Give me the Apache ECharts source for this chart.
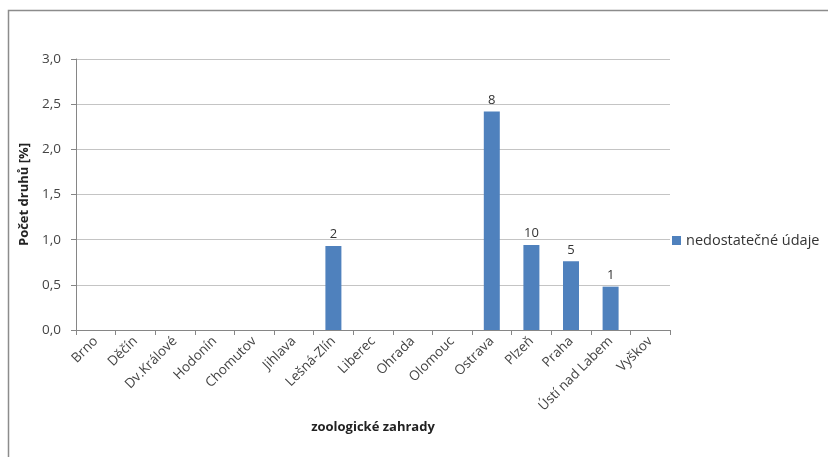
<!DOCTYPE html>
<html>
<head>
<meta charset="utf-8">
<script src="https://cdn.jsdelivr.net/npm/echarts@6/dist/echarts.min.js"></script>
<style>
  html, body { margin: 0; padding: 0; background: #fff; }
  #chart { width: 828px; height: 457px; }
</style>
</head>
<body>
<div id="chart"></div>
<script>
// zoologické zahrady
const zoos = ['Brno', 'Děčín', 'Dv.Králové', 'Hodonín', 'Chomutov', 'Jihlava', 'Lešná-Zlín',
    'Liberec', 'Ohrada', 'Olomouc', 'Ostrava', 'Plzeň', 'Praha', 'Ústí nad Labem', 'Vyškov'];
// podíl v %
const shares = [null, null, null, null, null, null, 0.93, null, null, null, 2.42, 0.94, 0.76, 0.48, null];
// počty druhů nad sloupci
const counts = ['', '', '', '', '', '', '2', '', '', '', '8', '10', '5', '1', ''];

const font = '"Open Sans", "DejaVu Sans", sans-serif';

const chart = echarts.init(document.getElementById('chart'));
chart.setOption({
    animation: false,
    graphic: [{
        type: 'rect',
        shape: { x: 8.5, y: 10.5, width: 860, height: 480 },
        style: { fill: 'none', stroke: '#8c8c8c', lineWidth: 1.5 },
    }],
    grid: { left: 76, right: 158, top: 59, bottom: 127 },
    legend: {
        data: ['nedostatečné údaje'],
        left: 667, top: 228,
        itemWidth: 9, itemHeight: 9, itemGap: 4,
        icon: 'rect',
        textStyle: { fontFamily: font, fontSize: 14.5, color: '#333' },
    },
    xAxis: {
        type: 'category',
        data: zoos,
        name: 'zoologické zahrady',
        nameLocation: 'middle',
        nameGap: 88,
        nameTextStyle: { fontFamily: font, fontSize: 13, fontWeight: 'bold', color: '#222' },
        axisLine: { lineStyle: { color: '#868686' } },
        axisTick: { show: true, length: 5, lineStyle: { color: '#868686' } },
        axisLabel: { rotate: 45, fontFamily: font, fontSize: 13.5, color: '#444', margin: 9, interval: 0 },
    },
    yAxis: {
        type: 'value',
        min: 0, max: 3, interval: 0.5,
        name: 'Počet druhů [%]',
        nameLocation: 'middle',
        nameGap: 44,
        nameRotate: 90,
        nameTextStyle: { fontFamily: font, fontSize: 13, fontWeight: 'bold', color: '#222' },
        axisLine: { show: true, lineStyle: { color: '#868686' } },
        axisTick: { show: true, length: 5, lineStyle: { color: '#868686' } },
        splitLine: { lineStyle: { color: '#c4c4c4', width: 1.2 } },
        axisLabel: {
            fontFamily: font, fontSize: 13.5, color: '#444', margin: 15,
            formatter: v => v.toFixed(1).replace('.', ','),
        },
    },
    series: [{
        name: 'nedostatečné údaje',
        type: 'bar',
        data: shares,
        barWidth: 16,
        itemStyle: { color: '#4f81bd' },
        label: {
            show: true, position: 'top', distance: 5,
            fontFamily: font, fontSize: 13, color: '#333',
            formatter: p => counts[p.dataIndex],
        },
    }],
});
</script>
</body>
</html>
